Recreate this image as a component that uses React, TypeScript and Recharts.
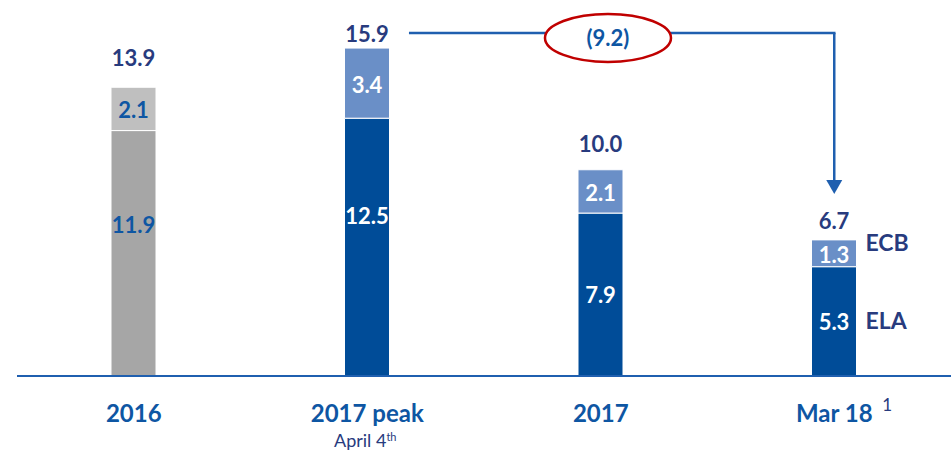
import React from "react"
import {
  BarChart,
  Bar,
  XAxis,
  YAxis,
  Cell,
  LabelList,
  ReferenceLine,
  ReferenceDot,
} from "recharts"

const CATEGORIES = ["2016", "2017 peak", "2017", "Mar 18"]
const CATEGORY_SUP = ["", "", "", "1"]
const SUBTITLES = ["", "April 4", "", ""]
const SUBTITLE_SUP = ["", "th", "", ""]
const LOWER_VALUES = [11.9, 12.5, 7.9, 5.3] // ELA
const UPPER_VALUES = [2.1, 3.4, 2.1, 1.3] // ECB
const TOTALS = [13.9, 15.9, 10.0, 6.7]
const CHANGE_LABEL = "(9.2)"
const SEGMENT_NAMES = { lower: "ELA", upper: "ECB" }

// layout tweaks for labels (pixels), not data
const TOTAL_GAP = [21, 6, 18, 11]
const LOWER_LABEL_SHIFT = [-29, -32, 0, 0]

const NAVY = "#283B7E"
const BLUE_TEXT = "#0E56A3"
const LINE_BLUE = "#1F5FAF"
const DARK_BLUE = "#004C98"
const LIGHT_BLUE = "#6A8FC7"
const DARK_GRAY = "#A6A6A6"
const LIGHT_GRAY = "#BFBFBF"

const data = CATEGORIES.map((name, i) => ({
  idx: i,
  name,
  lower: LOWER_VALUES[i],
  upper: UPPER_VALUES[i],
  total: TOTALS[i],
}))

const FONT = "Lato, 'Open Sans', sans-serif"

function CategoryTick(props: any) {
  const { x, y, payload } = props
  const i = payload.value as number
  return (
    <g fontFamily={FONT}>
      <text x={x} y={y + 46} textAnchor="middle" fontSize={24} fontWeight={700} fill={BLUE_TEXT}>
        {CATEGORIES[i]}
      </text>
      {CATEGORY_SUP[i] && (
        <text x={x + 48} y={y + 35} fontSize={17} fill={NAVY}>
          {CATEGORY_SUP[i]}
        </text>
      )}
      {SUBTITLES[i] && (
        <text x={x - 2} y={y + 71} textAnchor="middle" fontSize={18} fill={NAVY}>
          {SUBTITLES[i]}
          <tspan fontSize={11} dy={-6}>
            {SUBTITLE_SUP[i]}
          </tspan>
        </text>
      )}
    </g>
  )
}

function LowerLabel(props: any) {
  const { x, y, width, height, index, value } = props
  const gray = index === 0
  return (
    <g fontFamily={FONT}>
      <text
        x={x + width / 2}
        y={y + height / 2 + LOWER_LABEL_SHIFT[index]}
        textAnchor="middle"
        dominantBaseline="central"
        fontSize={22}
        fontWeight={700}
        fill={gray ? BLUE_TEXT : "#fff"}
      >
        {Number(value).toFixed(1)}
      </text>
      {index === CATEGORIES.length - 1 && (
        <text
          x={x + width + 9}
          y={y + height / 2 - 1}
          dominantBaseline="central"
          fontSize={23}
          fontWeight={700}
          fill={NAVY}
        >
          {SEGMENT_NAMES.lower}
        </text>
      )}
    </g>
  )
}

function UpperLabel(props: any) {
  const { x, y, width, height, index, value } = props
  const gray = index === 0
  return (
    <g fontFamily={FONT}>
      <text
        x={x + width / 2}
        y={y + height / 2 + 1}
        textAnchor="middle"
        dominantBaseline="central"
        fontSize={22}
        fontWeight={700}
        fill={gray ? BLUE_TEXT : "#fff"}
      >
        {Number(value).toFixed(1)}
      </text>
      {index === CATEGORIES.length - 1 && (
        <text
          x={x + width + 9}
          y={y + height / 2 - 11}
          dominantBaseline="central"
          fontSize={23}
          fontWeight={700}
          fill={NAVY}
        >
          {SEGMENT_NAMES.upper}
        </text>
      )}
      <text
        x={x + width / 2}
        y={y - TOTAL_GAP[index]}
        textAnchor="middle"
        fontSize={22}
        fontWeight={700}
        fill={NAVY}
      >
        {TOTALS[index].toFixed(1)}
      </text>
    </g>
  )
}

function ChangeBubble(props: any) {
  const { cx, cy } = props
  return (
    <g fontFamily={FONT}>
      <ellipse cx={cx} cy={cy} rx={63} ry={24} fill="#fff" stroke="#C00000" strokeWidth={2.5} />
      <text
        x={cx}
        y={cy}
        textAnchor="middle"
        dominantBaseline="central"
        fontSize={22}
        fontWeight={700}
        fill={BLUE_TEXT}
      >
        {CHANGE_LABEL}
      </text>
    </g>
  )
}

function ArrowHead(props: any) {
  const { cx, cy } = props
  return <path d={`M${cx - 8},${cy - 14} L${cx + 8},${cy - 14} L${cx},${cy} Z`} fill={LINE_BLUE} />
}

export default function App() {
  return (
    <div style={{ position: "absolute", left: 0, top: 0, background: "#fff" }}>
      <BarChart
        width={951}
        height={454}
        data={data}
        margin={{ top: 46, right: 0, bottom: 0, left: 17 }}
        barSize={45}
      >
        <XAxis
          dataKey="idx"
          type="number"
          domain={[-0.5, 3.5]}
          ticks={[0, 1, 2, 3]}
          allowDataOverflow
          height={78}
          tickLine={false}
          tickSize={0}
          tickMargin={0}
          axisLine={{ stroke: LINE_BLUE, strokeWidth: 2 }}
          tick={<CategoryTick />}
          interval={0}
        />
        <YAxis hide domain={[0, 16]} allowDataOverflow />
        <Bar dataKey="lower" stackId="a" isAnimationActive={false} stroke="#fff" strokeWidth={1}>
          {data.map((d, i) => (
            <Cell key={d.name} fill={i === 0 ? DARK_GRAY : DARK_BLUE} />
          ))}
          <LabelList dataKey="lower" content={<LowerLabel />} />
        </Bar>
        <Bar dataKey="upper" stackId="a" isAnimationActive={false} stroke="#fff" strokeWidth={1}>
          {data.map((d, i) => (
            <Cell key={d.name} fill={i === 0 ? LIGHT_GRAY : LIGHT_BLUE} />
          ))}
          <LabelList dataKey="upper" content={<UpperLabel />} />
        </Bar>
        <ReferenceLine
          segment={[
            { x: 1.184, y: 16.63 },
            { x: 3, y: 16.63 },
          ]}
          stroke={LINE_BLUE}
          strokeWidth={2.5}
          strokeLinecap="square"
          ifOverflow="visible"
        />
        <ReferenceLine
          segment={[
            { x: 3, y: 16.63 },
            { x: 3, y: 9.4 },
          ]}
          stroke={LINE_BLUE}
          strokeWidth={2.5}
          ifOverflow="visible"
        />
        <ReferenceDot x={3} y={8.82} ifOverflow="visible" shape={<ArrowHead />} />
        <ReferenceDot x={2.031} y={16.39} ifOverflow="visible" shape={<ChangeBubble />} />
      </BarChart>
    </div>
  )
}
